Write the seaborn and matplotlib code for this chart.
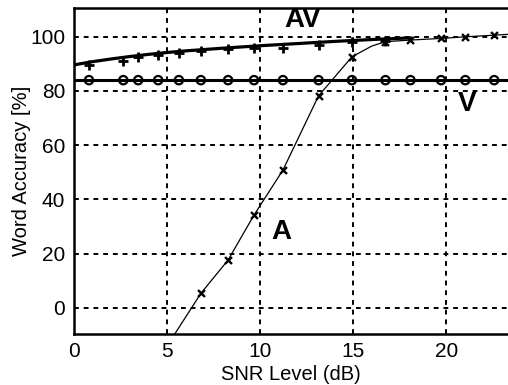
import numpy as np
import pandas as pd
import matplotlib
matplotlib.use("Agg")
import matplotlib.pyplot as plt
import seaborn as sns

# SNR levels where measurements were taken
snr = [0.83, 2.67, 3.47, 4.54, 5.65, 6.83, 8.29, 9.68, 11.23, 13.14, 14.93, 16.73, 18.07, 19.71, 21.01, 22.56]

# visual only (V) - flat
v_acc = [84, 84, 84, 84, 84, 84, 84, 84, 84, 84, 84, 84, 84, 84, 84, 84]

# audio-visual (AV) measured points
av_snr = [0.83, 2.67, 3.47, 4.54, 5.65, 6.83, 8.29, 9.68, 11.23, 13.14, 14.93, 16.73]
av_acc = [89.6, 90.9, 92.5, 93.3, 94.0, 94.6, 95.6, 95.7, 96.0, 96.9, 98.2, 98.4]

# audio only (A) measured points
a_snr = [6.83, 8.29, 9.68, 11.23, 13.14, 14.93, 16.73, 18.07, 19.71, 21.01, 22.56]
a_acc = [5.3, 17.6, 34.2, 50.8, 78.2, 92.6, 98.2, 98.8, 99.4, 100.0, 100.6]

# fitted curves
av_fit_x = [0, 1, 2, 3, 4, 5, 6, 7, 8, 10, 12, 14, 16, 18.1]
av_fit_y = [89.6, 90.8, 91.8, 92.7, 93.5, 94.2, 94.8, 95.3, 95.8, 96.7, 97.5, 98.3, 99.0, 99.6]
a_fit_x = [5.43, 6.83, 8.29, 9.68, 11.23, 13.14, 14.93, 16.0, 16.73, 18.07, 19.71, 21.01, 22.56, 23.3]
a_fit_y = [-9.7, 5.3, 17.6, 34.2, 50.8, 78.2, 92.6, 96.6, 98.2, 98.8, 99.4, 100.0, 100.6, 100.9]

sns.set_style("white")
plt.rcParams["font.family"] = ["Liberation Sans", "DejaVu Sans"]
plt.rcParams["text.color"] = "black"
plt.rcParams["axes.labelcolor"] = "black"
plt.rcParams["xtick.color"] = "black"
plt.rcParams["ytick.color"] = "black"

fig = plt.figure(figsize=(5.08, 3.85), dpi=100)
ax = fig.add_axes([0.1447, 0.1325, 0.8553, 0.8465])

# grid
for gx in [5, 10, 15, 20]:
    ax.axvline(gx, color="black", lw=1.4, ls=(0, (2.5, 2.5)), zorder=1)
for gy in [0, 20, 40, 60, 80, 100]:
    ax.axhline(gy, color="black", lw=1.4, ls=(0, (2.5, 2.5)), zorder=1)

# V
ax.axhline(v_acc[0], color="black", lw=2.2, zorder=2)
sns.scatterplot(x=snr, y=v_acc, ax=ax, marker="o", s=36, facecolor="none",
                edgecolor="black", linewidth=1.6, zorder=3)

# AV
sns.lineplot(x=av_fit_x, y=av_fit_y, ax=ax, color="black", lw=2.3, sort=False,
             estimator=None, zorder=2)
sns.scatterplot(x=av_snr, y=av_acc, ax=ax, marker="+", s=50, color="black",
                linewidth=2.0, zorder=3)

# A
sns.lineplot(x=a_fit_x, y=a_fit_y, ax=ax, color="black", lw=0.9, sort=False,
             estimator=None, zorder=2)
sns.scatterplot(x=a_snr, y=a_acc, ax=ax, marker="x", s=25, color="black",
                linewidth=1.7, zorder=3)

ax.text(11.3, 106.3, "AV", fontsize=20, fontweight="bold", va="center", ha="left")
ax.text(20.6, 75.2, "V", fontsize=20, fontweight="bold", va="center", ha="left")
ax.text(10.6, 28, "A", fontsize=20, fontweight="bold", va="center", ha="left")

ax.set_xlim(0, 23.3)
ax.set_ylim(-9.7, 110.6)
ax.set_xticks([0, 5, 10, 15, 20])
ax.set_yticks([0, 20, 40, 60, 80, 100])
ax.tick_params(labelsize=15, direction="in", length=4, width=1.2, color="black", pad=6)
ax.set_xlabel("SNR Level (dB)", fontsize=14.5, labelpad=3)
ax.set_ylabel("Word Accuracy [%]", fontsize=14.5, labelpad=-1)

for side in ["left", "bottom", "top"]:
    ax.spines[side].set_color("black")
    ax.spines[side].set_linewidth(1.8)
ax.spines["right"].set_visible(False)

fig.savefig("out.png", dpi=100)
